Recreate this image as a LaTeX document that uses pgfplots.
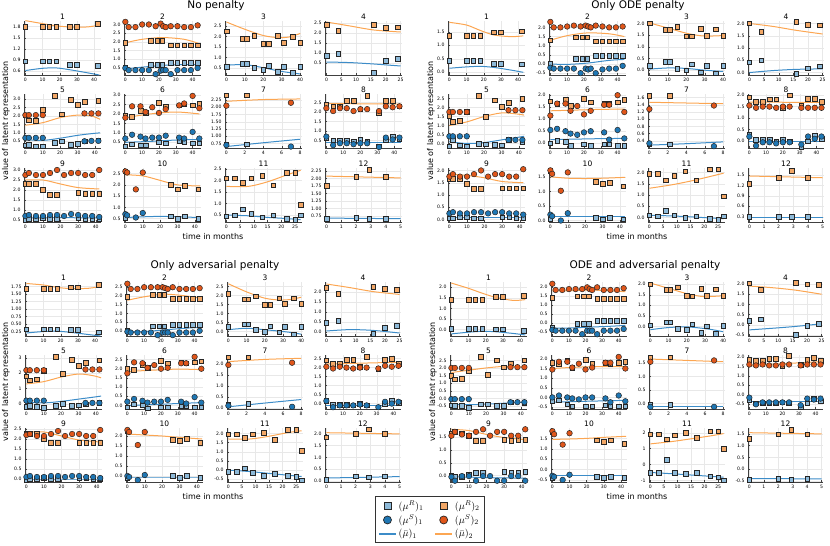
\documentclass[border=0pt]{standalone}
\usepackage{fontspec}
\setmainfont{DejaVu Sans}
\usepackage{pgfplots}
\usepackage{pgfplotstable}
\pgfplotsset{compat=1.18}

\definecolor{sqBc}{HTML}{8EBAD9}
\definecolor{sqOc}{HTML}{F2A766}
\definecolor{cBc}{HTML}{1F77B4}
\definecolor{cOc}{HTML}{E0561A}
\definecolor{lBc}{HTML}{3C8CC8}
\definecolor{lOc}{HTML}{FCA652}

\pgfplotsset{
  sub/.style={
    scale only axis, height=54pt, anchor=north west,
    axis lines*=left, axis line style={black!75, line width=0.5pt},
    xmajorgrids, ymajorgrids, grid style={black!9, line width=0.35pt},
    tick align=inside, major tick length=1.6pt, tick style={black!75, line width=0.4pt},
    ticklabel style={font=\fontsize{4.6}{5}\selectfont},
    every axis title/.style={at={(0.5,1)}, anchor=south, inner sep=1pt, font=\fontsize{7.5}{8}\selectfont},
    clip=false,
    /pgf/number format/assume math mode=true,
    /pgf/number format/fixed, /pgf/number format/fixed zerofill, /pgf/number format/precision=1,
    xticklabel style={/pgf/number format/precision=0},
  },
  ptwo/.style={yticklabel style={/pgf/number format/precision=2}},
  pzero/.style={yticklabel style={/pgf/number format/precision=0}},
  sqB/.style={only marks, mark=square*, mark size=2.3pt, mark options={fill=sqBc, draw=black!85, line width=0.55pt}},
  sqO/.style={only marks, mark=square*, mark size=2.3pt, mark options={fill=sqOc, draw=black!85, line width=0.55pt}},
  ciB/.style={only marks, mark=*, mark size=2.8pt, mark options={fill=cBc, draw=black!85, line width=0.5pt}},
  ciO/.style={only marks, mark=*, mark size=2.8pt, mark options={fill=cOc, draw=black!85, line width=0.5pt}},
  lnB/.style={no marks, smooth, lBc, line width=1pt},
  lnO/.style={no marks, smooth, lOc, line width=1pt},
  xpa/.style={xmin=-0.8, xmax=44, xtick={0,10,20,30,40}},
  xpb/.style={xmin=-0.8, xmax=45, xtick={0,10,20,30,40}},
  xpc/.style={xmin=-0.8, xmax=41, xtick={0,10,20,30,40}},
  xpd/.style={xmin=-0.5, xmax=25.5, xtick={0,5,10,15,20,25}},
  xpe/.style={xmin=-0.8, xmax=43.5, xtick={0,10,20,30,40}},
  xpf/.style={xmin=-0.8, xmax=45, xtick={0,10,20,30,40}},
  xpg/.style={xmin=-0.15, xmax=8.2, xtick={0,2,4,6,8}},
  xph/.style={xmin=-0.8, xmax=44.5, xtick={0,10,20,30,40}},
  xpi/.style={xmin=-0.8, xmax=43, xtick={0,10,20,30,40}},
  xpj/.style={xmin=-0.8, xmax=43.5, xtick={0,10,20,30,40}},
  xpk/.style={xmin=-0.5, xmax=27.5, xtick={0,5,10,15,20,25}},
  xpl/.style={xmin=-0.1, xmax=5.1, xtick={0,1,2,3,4,5}},
}

% squares: (mu^R), circles: (mu^S), lines: (bar mu); column prefix A..D = panel
\pgfplotstableread{
x AsO AsB BsO BsB CsO CsB DsO DsB
0 1.80 0.87 1.35 0.42 1.68 0.33 1.42 0.05
10 1.80 0.87 1.35 0.42 1.68 0.33 1.42 0.05
14 1.80 0.87 1.35 0.42 1.68 0.33 1.42 0.05
18 1.80 0.87 1.35 0.42 1.68 0.33 1.42 0.05
26 1.80 0.78 1.48 0.32 1.73 0.30 1.55 0.02
30 1.80 0.78 1.48 0.32 1.73 0.30 1.55 0.02
42 1.88 0.75 1.52 0.30 1.80 0.23 1.60 -0.05
}\sqa
\pgfplotstableread{
x AlO AlB BlO BlB ClO ClB DlO DlB
0 1.96 0.62 1.85 0.15 1.85 0.20 2.20 -0.20
10 1.88 0.68 1.75 0.20 1.80 0.25 1.95 -0.12
18 1.82 0.69 1.55 0.22 1.72 0.26 1.72 -0.08
26 1.79 0.64 1.38 0.18 1.68 0.22 1.52 -0.10
36 1.79 0.56 1.32 0.08 1.69 0.15 1.38 -0.18
43 1.84 0.50 1.35 0.00 1.75 0.10 1.42 -0.25
}\lna

\pgfplotstableread{
x AsO AsB BsO BsB CsO CsB DsO DsB
0 1.95 0.55 1.30 0.05 1.95 0.00 1.40 -0.30
15 2.05 0.70 1.45 0.30 2.05 0.25 1.50 -0.05
19 2.05 0.70 1.45 0.30 2.05 0.25 1.50 -0.05
22 2.05 0.70 1.45 0.30 2.05 0.25 1.50 -0.05
27 1.80 0.80 1.25 0.45 1.85 0.35 1.35 0.10
31 1.80 0.80 1.25 0.45 1.85 0.35 1.35 0.10
35 1.80 0.80 1.25 0.45 1.85 0.35 1.35 0.10
39 1.80 0.80 1.25 0.45 1.85 0.35 1.35 0.10
43 1.80 0.80 1.25 0.45 1.85 0.35 1.35 0.10
}\sqb
\pgfplotstableread{
x AcO AcB BcO BcB CcO CcB DcO DcB
0 3.15 0.50 2.30 -0.20 2.70 -0.05 2.20 -0.40
2 2.85 0.38 2.00 -0.25 2.40 -0.10 1.85 -0.45
6 2.85 0.38 2.00 -0.25 2.40 -0.10 1.85 -0.45
10 3.00 0.38 2.05 -0.25 2.50 -0.10 1.90 -0.45
14 3.00 0.38 2.10 -0.25 2.50 -0.10 1.90 -0.45
18 2.90 0.15 2.05 -0.50 2.50 -0.25 1.90 -0.65
21 3.05 0.35 2.10 -0.25 2.50 -0.10 2.00 -0.45
22.5 2.90 0.38 2.05 -0.30 2.45 -0.10 1.90 -0.45
24 2.85 0.38 2.00 -0.25 2.40 -0.10 1.85 -0.45
27 2.90 0.15 2.10 -0.50 2.50 -0.25 2.00 -0.65
31 2.90 0.38 2.05 -0.30 2.40 -0.10 1.85 -0.45
35 2.85 0.38 2.00 -0.25 2.40 -0.10 1.85 -0.45
39 2.85 0.38 2.00 -0.25 2.40 -0.10 1.85 -0.45
43 2.95 0.50 2.05 -0.10 2.45 0.00 1.95 -0.35
}\cib
\pgfplotstableread{
x AlO AlB BlO BlB ClO ClB DlO DlB
0 1.95 0.45 1.30 0.00 1.75 -0.05 1.80 -0.30
10 2.15 0.55 1.55 -0.02 1.95 -0.05 1.80 -0.30
22 2.25 0.65 1.70 0.05 2.10 0.05 1.85 -0.25
35 2.15 0.70 1.65 0.20 2.00 0.15 1.80 -0.20
44 1.90 0.68 1.50 0.25 1.85 0.20 1.75 -0.15
}\lnb

\pgfplotstableread{
x AsO AsB BsO BsB CsO CsB DsO DsB
0 2.25 0.55 2.00 0.20 2.10 0.25 2.00 0.05
9 1.90 0.70 1.72 0.37 1.80 0.40 1.72 0.20
11 1.90 0.70 1.72 0.37 1.80 0.40 1.72 0.20
15 2.05 0.50 1.85 0.07 1.95 0.10 1.85 -0.10
20 1.65 0.40 1.45 0.00 1.50 0.00 1.45 -0.15
23 1.65 0.60 1.45 0.25 1.48 0.28 1.42 0.10
28 2.05 0.30 1.78 -0.08 1.85 -0.05 1.78 -0.30
31 1.70 0.55 1.48 0.20 1.55 0.25 1.45 0.00
36 2.00 0.25 1.75 -0.12 1.85 -0.15 1.75 -0.35
40 1.70 0.55 1.48 0.20 1.55 0.25 1.45 0.02
}\sqc
\pgfplotstableread{
x AlO AlB BlO BlB ClO ClB DlO DlB
0 2.70 0.62 2.02 0.05 2.65 0.10 2.05 -0.15
10 2.35 0.65 1.80 0.10 2.20 0.18 1.80 -0.05
20 2.05 0.50 1.58 0.08 1.85 0.10 1.55 -0.02
28 1.95 0.35 1.47 0.02 1.75 0.02 1.42 -0.08
34 1.98 0.27 1.46 -0.02 1.78 -0.05 1.42 -0.15
40 2.15 0.20 1.48 -0.05 1.90 -0.15 1.45 -0.25
}\lnc

\pgfplotstableread{
x AsO AsB BsO BsB CsO CsB DsO DsB
0 2.40 0.85 2.00 0.42 2.20 0.45 2.03 0.20
4 2.10 0.95 1.65 0.50 1.90 0.55 1.72 0.28
16 2.40 0.00 2.07 -0.05 2.25 -0.10 2.07 -0.50
20 2.25 0.60 1.95 0.18 2.15 0.20 1.98 -0.05
24 2.28 0.70 1.93 0.25 2.10 0.30 1.95 0.05
}\sqd
\pgfplotstableread{
x AlO AlB BlO BlB ClO ClB DlO DlB
0 2.55 0.55 2.00 0.00 2.40 0.05 1.90 -0.25
8 2.35 0.52 1.88 0.08 2.22 0.12 1.82 -0.17
16 2.15 0.45 1.72 0.13 2.02 0.08 1.70 -0.08
25 2.05 0.35 1.57 0.15 1.88 -0.05 1.50 0.05
}\lnd

\pgfplotstableread{
x AsO AsB BsO BsB CsO CsB DsO DsB
0 2.05 0.25 1.55 -0.15 1.80 -0.20 1.50 -0.45
2 1.75 0.30 1.20 0.20 1.55 -0.15 1.25 -0.50
6 1.70 0.20 1.25 -0.10 1.60 -0.20 1.30 -0.50
10 2.35 0.20 1.75 -0.15 2.15 -0.25 1.80 -0.60
17 3.20 0.40 2.65 0.00 3.10 -0.15 2.75 -0.40
21 2.10 0.50 1.50 -0.05 1.95 0.00 1.55 -0.40
26 2.95 0.30 2.40 -0.08 2.90 -0.15 2.50 -0.50
30 2.65 0.35 2.05 -0.10 2.50 -0.10 2.05 -0.50
34 2.85 0.50 2.25 0.20 2.70 -0.05 2.30 -0.25
42 2.90 0.55 2.50 0.10 2.85 0.05 2.50 -0.30
}\sqe
\pgfplotstableread{
x AcO AcB BcO BcB CcO CcB DcO DcB
0 2.05 0.70 1.75 0.40 2.20 0.20 2.00 -0.05
2 2.05 0.70 1.75 0.40 2.20 0.20 2.00 -0.05
6 2.05 0.70 1.75 0.40 2.20 0.20 2.00 -0.05
10 2.05 0.70 1.75 0.40 2.20 0.20 2.00 -0.05
34 2.15 0.50 1.85 0.20 2.25 0.05 2.05 -0.25
38 2.15 0.52 1.85 0.20 2.25 0.05 2.05 -0.25
42 2.15 0.52 1.85 0.20 2.25 0.05 2.05 -0.25
}\cie
\pgfplotstableread{
x AlO AlB BlO BlB ClO ClB DlO DlB
0 1.45 0.60 1.00 0.10 1.30 0.10 1.70 -0.40
10 1.60 0.55 1.20 0.00 1.45 0.05 1.85 -0.42
20 1.90 0.68 1.50 0.05 1.75 0.15 2.00 -0.38
30 2.05 0.85 1.70 0.20 1.95 0.30 2.10 -0.32
38 2.00 0.95 1.65 0.32 1.85 0.42 2.08 -0.28
43 1.80 1.00 1.58 0.40 1.70 0.50 2.05 -0.25
}\lne

\pgfplotstableread{
x AsO AsB BsO BsB CsO CsB DsO DsB
0 1.90 0.30 1.75 0.00 2.00 -0.10 1.80 -0.20
4 1.85 0.40 1.65 0.10 1.95 0.05 1.75 -0.15
9 2.15 0.35 1.80 0.05 2.20 0.00 1.90 -0.35
12 2.05 0.35 1.55 -0.10 2.05 -0.15 1.55 -0.45
20 2.60 0.50 1.85 -0.05 2.45 -0.10 1.95 -0.45
24 2.40 0.45 1.70 -0.10 2.30 -0.10 1.75 -0.45
32 2.45 0.55 1.65 -0.05 2.35 -0.05 1.80 -0.40
35 2.50 0.50 1.65 -0.05 2.30 -0.05 1.75 -0.45
40 2.45 0.45 1.70 -0.10 2.35 -0.10 1.80 -0.45
44 2.55 0.45 1.80 -0.10 2.40 -0.10 1.85 -0.45
}\sqf
\pgfplotstableread{
x AcO AcB BcO BcB CcO CcB DcO DcB
0 1.80 0.70 1.15 0.55 1.75 0.20 1.45 0.00
4 2.40 0.90 1.65 0.60 2.35 0.35 1.85 0.10
9 2.40 0.80 1.65 0.50 2.30 0.25 1.85 0.00
12 2.10 0.70 1.35 0.40 2.05 0.15 1.55 -0.05
16 2.35 0.75 1.55 0.35 2.20 0.20 1.75 -0.10
20 2.05 0.75 1.20 0.45 2.00 0.20 1.45 0.00
24 2.25 0.85 1.35 0.50 2.05 0.30 1.55 0.00
32 2.45 0.75 1.60 0.45 2.30 0.20 1.80 -0.05
35 2.55 0.70 1.60 0.15 2.30 0.10 1.80 -0.25
40 2.95 1.05 2.00 0.55 2.65 0.45 2.10 0.10
44 2.30 0.70 1.30 0.20 2.00 0.15 1.50 -0.20
}\cif
\pgfplotstableread{
x AlO AlB BlO BlB ClO ClB DlO DlB
0 1.80 0.50 1.35 0.15 1.85 0.00 1.50 -0.25
15 2.00 0.55 1.38 0.17 1.92 0.04 1.57 -0.21
30 2.10 0.62 1.41 0.19 1.98 0.10 1.60 -0.18
44 2.00 0.65 1.42 0.20 1.95 0.15 1.60 -0.15
}\lnf

\pgfplotstableread{
x AsO AsB BsO BsB CsO CsB DsO DsB
0 2.40 0.73 1.65 0.30 2.30 0.15 1.72 -0.05
2.2 2.40 0.73 1.65 0.30 2.30 0.18 1.72 -0.05
}\sqg
\pgfplotstableread{
x AcO AcB BcO BcB CcO CcB DcO DcB
0 2.05 0.70 1.28 0.33 1.95 0.10 1.55 -0.12
7 2.15 0.65 1.38 0.25 2.05 0.05 1.60 -0.12
}\cig
\pgfplotstableread{
x AlO AlB BlO BlB ClO ClB DlO DlB
0 2.20 0.65 1.47 0.28 2.10 0.05 1.65 -0.10
4 2.26 0.78 1.45 0.32 2.20 0.22 1.60 -0.10
8 2.28 0.90 1.43 0.37 2.25 0.38 1.55 -0.10
}\lng

\pgfplotstableread{
x AsO AsB BsO BsB CsO CsB DsO DsB
0 2.40 0.65 1.90 0.30 2.40 0.15 1.85 -0.25
4 2.30 0.50 1.72 0.05 2.20 -0.05 1.80 -0.45
8 2.30 0.50 1.72 0.05 2.20 -0.05 1.80 -0.45
12 2.60 0.50 1.82 0.05 2.45 -0.05 1.90 -0.45
16 2.60 0.45 1.82 0.00 2.45 -0.10 1.90 -0.45
20 2.15 0.55 1.45 0.05 2.05 0.00 1.50 -0.40
24 2.85 0.45 2.00 0.00 2.60 -0.10 2.05 -0.45
31 1.95 0.20 1.55 -0.25 1.95 -0.20 1.60 -0.65
35 2.60 0.50 1.85 0.00 2.45 0.00 1.85 -0.45
39 2.60 0.70 1.85 0.25 2.50 0.15 1.95 -0.20
43 2.30 0.60 1.72 0.10 2.20 0.05 1.80 -0.35
}\sqh
\pgfplotstableread{
x AcO AcB BcO BcB CcO CcB DcO DcB
0 2.20 0.70 1.55 0.20 2.05 0.15 1.60 -0.15
4 2.05 0.25 1.45 -0.20 1.95 -0.20 1.55 -0.50
8 2.20 0.35 1.50 -0.05 2.05 -0.10 1.60 -0.40
12 2.20 0.35 1.50 -0.05 2.00 -0.10 1.55 -0.40
16 2.05 0.30 1.45 -0.10 1.95 -0.10 1.55 -0.40
20 2.15 0.35 1.50 -0.05 2.00 -0.05 1.60 -0.40
24 2.15 0.35 1.50 -0.05 2.00 -0.10 1.60 -0.40
31 2.05 0.15 1.45 -0.15 1.95 -0.20 1.55 -0.55
35 2.30 0.65 1.45 0.20 2.10 0.10 1.60 -0.20
39 2.25 0.55 1.45 0.10 2.05 0.00 1.60 -0.25
43 2.30 0.65 1.45 0.20 2.10 0.10 1.60 -0.20
}\cih
\pgfplotstableread{
x AlO AlB BlO BlB ClO ClB DlO DlB
0 2.45 0.40 1.70 0.00 2.20 -0.10 1.55 -0.35
22 2.43 0.40 1.69 0.00 2.25 -0.10 1.65 -0.35
44 2.42 0.40 1.68 0.00 2.30 -0.10 1.75 -0.35
}\lnh

\pgfplotstableread{
x AsO AsB BsO BsB CsO CsB DsO DsB
0 2.30 0.50 1.65 0.05 2.25 -0.05 1.65 0.00
2 2.30 0.55 1.65 0.05 2.25 0.00 1.70 -0.05
6 2.30 0.55 1.65 0.10 2.25 0.00 1.65 -0.05
10 2.00 0.60 1.45 0.10 2.00 0.05 1.55 0.05
14 1.75 0.55 1.25 0.05 1.80 0.00 1.35 0.10
18 1.75 0.55 1.25 0.05 1.80 0.00 1.35 0.10
30 1.85 0.60 1.28 0.10 1.80 0.05 1.40 0.15
34 1.80 0.55 1.27 0.10 1.80 0.05 1.35 0.10
38 1.80 0.55 1.27 0.05 1.80 0.00 1.40 0.10
42 1.80 0.55 1.27 0.05 1.80 0.00 1.40 0.15
}\sqi
\pgfplotstableread{
x AcO AcB BcO BcB CcO CcB DcO DcB
0 2.75 0.70 1.75 0.25 2.20 0.10 1.55 -0.05
2 2.85 0.75 1.85 0.30 2.25 0.15 1.70 -0.20
6 2.75 0.70 1.75 0.25 2.15 0.10 1.60 -0.02
10 2.75 0.70 1.75 0.25 2.15 0.10 1.55 -0.02
14 2.85 0.75 1.85 0.30 2.25 0.15 1.70 -0.20
18 3.00 0.75 2.00 0.30 2.40 0.15 1.80 -0.02
22 2.75 0.70 1.75 0.25 2.15 0.10 1.55 -0.02
26 2.85 0.80 1.85 0.30 2.25 0.15 1.70 -0.20
30 2.85 0.75 1.85 0.30 2.25 0.15 1.70 -0.20
34 2.75 0.70 1.75 0.25 2.15 0.10 1.55 -0.02
38 2.75 0.70 1.75 0.25 2.15 0.10 1.55 -0.02
42 3.00 0.65 2.05 0.20 2.45 0.05 1.80 -0.20
}\cii
\pgfplotstableread{
x AlO AlB BlO BlB ClO ClB DlO DlB
0 2.50 0.60 1.85 0.10 2.35 0.00 1.80 -0.05
10 2.50 0.61 1.80 0.10 2.35 0.00 1.75 -0.06
20 2.30 0.62 1.70 0.10 2.15 0.00 1.60 -0.08
30 2.12 0.61 1.55 0.10 1.95 0.00 1.48 -0.09
42 2.05 0.60 1.50 0.10 1.85 0.00 1.40 -0.10
}\lni

\pgfplotstableread{
x AsO AsB BsO BsB CsO CsB DsO DsB
0 2.60 0.55 1.70 0.05 2.25 -0.10 1.80 -0.40
26 2.00 0.60 1.32 0.10 1.80 0.00 1.40 -0.35
30 1.80 0.50 1.25 0.05 1.75 -0.10 1.35 -0.40
34 1.95 0.60 1.30 0.10 1.85 0.00 1.40 -0.35
42 1.80 0.50 1.18 0.05 1.65 -0.10 1.25 -0.40
}\sqj
\pgfplotstableread{
x AcO AcB BcO BcB CcO CcB DcO DcB
0 2.60 0.70 1.72 0.20 2.30 0.00 1.85 -0.30
1 2.55 0.65 1.60 0.15 2.20 -0.05 1.70 -0.35
6 1.80 0.55 1.02 0.00 1.55 -0.20 1.20 -0.50
10 2.55 0.75 1.65 0.25 2.20 0.05 1.75 -0.25
}\cij
\pgfplotstableread{
x AlO AlB BlO BlB ClO ClB DlO DlB
0 2.45 0.55 1.50 0.15 2.10 -0.05 1.45 -0.30
10 2.40 0.58 1.45 0.15 2.05 -0.05 1.47 -0.30
20 2.20 0.60 1.44 0.15 2.00 -0.05 1.50 -0.30
30 2.00 0.58 1.45 0.15 1.93 -0.05 1.55 -0.30
43 1.95 0.55 1.48 0.15 1.85 -0.05 1.60 -0.30
}\lnj

\pgfplotstableread{
x AsO AsB BsO BsB CsO CsB DsO DsB
0 2.10 0.45 1.95 0.10 1.95 -0.10 1.90 -0.50
3 2.10 0.50 1.95 0.05 1.95 -0.10 1.90 -0.50
6 1.90 0.75 1.65 0.30 1.75 0.10 1.60 0.30
9 2.10 0.55 1.85 0.10 1.95 -0.15 1.85 -0.50
13 2.20 0.40 2.05 0.00 2.05 -0.30 2.00 -0.60
17 1.80 0.50 1.65 0.05 1.65 -0.20 1.70 -0.50
22 2.35 0.35 2.15 -0.05 2.20 -0.30 2.10 -0.75
25 2.35 0.30 2.15 -0.10 2.20 -0.35 2.10 -0.80
27 0.95 0.50 0.95 0.05 1.05 -0.55 1.00 -1.00
}\sqk
\pgfplotstableread{
x AlO AlB BlO BlB ClO ClB DlO DlB
0 1.75 0.50 1.30 0.10 1.70 0.00 1.30 -0.50
8 1.75 0.47 1.45 0.07 1.70 -0.08 1.45 -0.58
15 1.95 0.40 1.62 0.03 1.85 -0.18 1.62 -0.66
22 2.25 0.35 1.82 -0.02 2.05 -0.28 1.80 -0.74
27 2.45 0.30 1.97 -0.05 2.15 -0.35 1.95 -0.80
}\lnk

\pgfplotstableread{
x AsO AsB BsO BsB CsO CsB DsO DsB
0 1.75 0.65 1.25 0.30 1.85 0.05 1.30 -0.45
2 2.05 0.70 1.42 0.30 2.00 0.20 1.48 -0.40
2.9 2.30 0.65 1.62 0.30 2.20 0.15 1.68 -0.45
4 2.05 0.65 1.42 0.30 2.00 0.20 1.48 -0.40
}\sql
\pgfplotstableread{
x AlO AlB BlO BlB ClO ClB DlO DlB
0 2.08 0.68 1.47 0.27 2.05 0.12 1.55 -0.40
5 2.02 0.66 1.42 0.27 2.00 0.18 1.50 -0.42
}\lnl

\newcommand{\pltx}[3]{\addplot[#2] table[x=x, y=#3] {#1};}
\newcommand{\plt}[3]{\expandafter\pltx\csname #2\endcsname{#1}{#3}}

% #1 left, #2 top (pt from top), #3 patient, #4 panel, #5 title, #6 width, #7 y options
\newcommand{\subp}[7]{%
  \begin{axis}[sub, at={(#1pt,-#2pt)}, width=#6pt, title={#5}, xp#3, #7]
    \plt{sqB}{sq#3}{#4sB}
    \plt{sqO}{sq#3}{#4sO}
    \ifcsname ci#3\endcsname
      \plt{ciB}{ci#3}{#4cB}
      \plt{ciO}{ci#3}{#4cO}
    \fi
    \plt{lnB}{ln#3}{#4lB}
    \plt{lnO}{ln#3}{#4lO}
  \end{axis}}

\begin{document}
\begin{tikzpicture}[x=1pt, y=1pt]
\useasboundingbox (0,0) rectangle (830,-546);

% No penalty
\subp{24}{21}{a}{A}{1}{77}{ymin=0.5,ymax=1.95,ytick={0.6,0.9,1.2,1.5,1.8}}
\subp{124}{21}{b}{A}{2}{77}{ymin=0.1,ymax=3.2,ytick={0.5,1,1.5,2,2.5,3}}
\subp{225}{21}{c}{A}{3}{77}{ymin=0.15,ymax=2.75,ytick={0.5,1,1.5,2,2.5}}
\subp{325}{21}{d}{A}{4}{77}{ymin=-0.1,ymax=2.6,ytick={0.5,1,1.5,2,2.5}}
\subp{24}{94}{e}{A}{5}{77}{ymin=0.1,ymax=3.3,ytick={0.5,1,1.5,2,2.5,3}}
\subp{124}{94}{f}{A}{6}{77}{ymin=0.2,ymax=3.05,ytick={0.5,1,1.5,2,2.5,3}}
\subp{225}{94}{g}{A}{7}{77}{ymin=0.6,ymax=2.45,ytick={0.75,1,1.25,1.5,1.75,2,2.25},ptwo}
\subp{325}{94}{h}{A}{8}{77}{ymin=0.1,ymax=2.95,ytick={0.5,1,1.5,2,2.5}}
\subp{24}{168}{i}{A}{9}{77}{ymin=0.4,ymax=3.1,ytick={0.5,1,1.5,2,2.5,3}}
\subp{124}{168}{j}{A}{10}{77}{ymin=0.35,ymax=2.75,ytick={0.5,1,1.5,2,2.5}}
\subp{225}{168}{k}{A}{11}{77}{ymin=0.2,ymax=2.55,ytick={0.5,1,1.5,2,2.5}}
\subp{325}{168}{l}{A}{12}{77}{ymin=0.55,ymax=2.35,ytick={0.75,1,1.25,1.5,1.75,2,2.25},ptwo}

% Only ODE penalty
\subp{448}{21}{a}{B}{1}{77}{ymin=-0.1,ymax=1.9,ytick={0,0.5,1,1.5}}
\subp{549}{21}{b}{B}{2}{77}{ymin=-0.6,ymax=2.35,ytick={-0.5,0,0.5,1,1.5,2}}
\subp{648}{21}{c}{B}{3}{77}{ymin=-0.2,ymax=2.1,ytick={0,0.5,1,1.5,2}}
\subp{748}{21}{d}{B}{4}{76}{ymin=-0.1,ymax=2.1,ytick={0,0.5,1,1.5,2}}
\subp{448}{94}{e}{B}{5}{77}{ymin=-0.25,ymax=2.75,ytick={0,0.5,1,1.5,2,2.5}}
\subp{549}{94}{f}{B}{6}{77}{ymin=-0.2,ymax=2.05,ytick={0,0.5,1,1.5,2}}
\subp{648}{94}{g}{B}{7}{77}{ymin=0.2,ymax=1.7,ytick={0.4,0.6,0.8,1,1.2,1.4,1.6}}
\subp{748}{94}{h}{B}{8}{76}{ymin=-0.3,ymax=2.05,ytick={0,0.5,1,1.5,2}}
\subp{448}{168}{i}{B}{9}{77}{ymin=-0.1,ymax=2.1,ytick={0,0.5,1,1.5,2}}
\subp{549}{168}{j}{B}{10}{77}{ymin=-0.05,ymax=1.8,ytick={0,0.5,1,1.5}}
\subp{648}{168}{k}{B}{11}{77}{ymin=-0.2,ymax=2.2,ytick={0,0.5,1,1.5,2}}
\subp{748}{168}{l}{B}{12}{76}{ymin=0.15,ymax=1.7,ytick={0.3,0.6,0.9,1.2,1.5}}

% Only adversarial penalty
\subp{25}{282}{a}{C}{1}{77}{ymin=0.1,ymax=1.9,ytick={0.25,0.5,0.75,1,1.25,1.5,1.75},ptwo}
\subp{126}{282}{b}{C}{2}{77}{ymin=-0.3,ymax=2.8,ytick={0,0.5,1,1.5,2,2.5}}
\subp{227}{282}{c}{C}{3}{76}{ymin=-0.25,ymax=2.75,ytick={0,0.5,1,1.5,2,2.5}}
\subp{325}{282}{d}{C}{4}{76}{ymin=-0.2,ymax=2.5,ytick={0,0.5,1,1.5,2}}
\subp{25}{355}{e}{C}{5}{77}{ymin=-0.35,ymax=3.2,ytick={0,1,2,3},pzero}
\subp{126}{355}{f}{C}{6}{77}{ymin=-0.2,ymax=2.75,ytick={0,0.5,1,1.5,2,2.5}}
\subp{227}{355}{g}{C}{7}{76}{ymin=-0.05,ymax=2.4,ytick={0,0.5,1,1.5,2}}
\subp{325}{355}{h}{C}{8}{76}{ymin=-0.3,ymax=2.7,ytick={0,0.5,1,1.5,2,2.5}}
\subp{25}{428}{i}{C}{9}{77}{ymin=-0.15,ymax=2.55,ytick={0,0.5,1,1.5,2,2.5}}
\subp{126}{428}{j}{C}{10}{77}{ymin=-0.3,ymax=2.4,ytick={0,0.5,1,1.5,2}}
\subp{227}{428}{k}{C}{11}{76}{ymin=-0.65,ymax=2.3,ytick={-0.5,0,0.5,1,1.5,2}}
\subp{325}{428}{l}{C}{12}{76}{ymin=-0.05,ymax=2.25,ytick={0,0.5,1,1.5,2}}

% ODE and adversarial penalty
\subp{450}{282}{a}{D}{1}{77}{ymin=-0.3,ymax=2.25,ytick={0,0.5,1,1.5,2}}
\subp{551}{282}{b}{D}{2}{76}{ymin=-0.75,ymax=2.3,ytick={-0.5,0,0.5,1,1.5,2}}
\subp{649}{282}{c}{D}{3}{76}{ymin=-0.45,ymax=2.1,ytick={0,0.5,1,1.5,2}}
\subp{748}{282}{d}{D}{4}{75}{ymin=-0.55,ymax=2.1,ytick={-0.5,0,0.5,1,1.5,2}}
\subp{450}{355}{e}{D}{5}{77}{ymin=-0.7,ymax=2.85,ytick={-0.5,0,0.5,1,1.5,2,2.5}}
\subp{551}{355}{f}{D}{6}{76}{ymin=-0.6,ymax=2.2,ytick={-0.5,0,0.5,1,1.5,2}}
\subp{649}{355}{g}{D}{7}{76}{ymin=-0.2,ymax=1.8,ytick={0,0.5,1,1.5}}
\subp{748}{355}{h}{D}{8}{75}{ymin=-0.75,ymax=2.1,ytick={-0.5,0,0.5,1,1.5,2}}
\subp{450}{428}{i}{D}{9}{77}{ymin=-0.25,ymax=1.85,ytick={0,0.5,1,1.5}}
\subp{551}{428}{j}{D}{10}{76}{ymin=-0.6,ymax=2.0,ytick={-0.5,0,0.5,1,1.5}}
\subp{649}{428}{k}{D}{11}{76}{ymin=-1.1,ymax=2.3,ytick={-1,0,1,2},pzero}
\subp{748}{428}{l}{D}{12}{75}{ymin=-0.55,ymax=1.75,ytick={-0.5,0,0.5,1,1.5}}

% panel titles and labels
\begin{scope}[every node/.style={font=\fontsize{10.5}{12}\selectfont}]
\node at (216,-6) {No penalty};
\node at (638,-6) {Only ODE penalty};
\node at (215,-266) {Only adversarial penalty};
\node at (645,-266) {ODE and adversarial penalty};
\end{scope}
\begin{scope}[every node/.style={font=\fontsize{8}{9}\selectfont}]
\node at (213,-237) {time in months};
\node at (637,-237) {time in months};
\node at (213,-497) {time in months};
\node at (637,-497) {time in months};
\node[rotate=90] at (6,-121) {value of latent representation};
\node[rotate=90] at (431,-121) {value of latent representation};
\node[rotate=90] at (6,-382) {value of latent representation};
\node[rotate=90] at (433,-382) {value of latent representation};
\end{scope}

% legend
\begin{axis}[hide axis, scale only axis, width=20pt, height=20pt, at={(430pt,-519.5pt)}, anchor=center,
  xmin=0, xmax=1, ymin=0, ymax=1, legend columns=2, legend cell align=left,
  legend style={at={(0.5,0.5)}, anchor=center, draw=black!80, line width=0.6pt,
    font=\fontsize{10}{11}\selectfont, row sep=0.5pt, inner xsep=3pt, inner ysep=2pt,
    /tikz/every even column/.append style={column sep=9pt}}]
\addplot[draw=none, forget plot] coordinates {(0,0)};
\addlegendimage{only marks, mark=square*, mark size=3.5pt, mark options={fill=sqBc, draw=black!85, line width=0.7pt}}
\addlegendentry{$(\mu^{R})_1$}
\addlegendimage{only marks, mark=square*, mark size=3.5pt, mark options={fill=sqOc, draw=black!85, line width=0.7pt}}
\addlegendentry{$(\mu^{R})_2$}
\addlegendimage{only marks, mark=*, mark size=4pt, mark options={fill=cBc, draw=black!85, line width=0.7pt}}
\addlegendentry{$(\mu^{S})_1$}
\addlegendimage{only marks, mark=*, mark size=4pt, mark options={fill=cOc, draw=black!85, line width=0.7pt}}
\addlegendentry{$(\mu^{S})_2$}
\addlegendimage{no marks, draw=lBc, line width=1.3pt}
\addlegendentry{$(\bar{\mu})_1$}
\addlegendimage{no marks, draw=lOc, line width=1.3pt}
\addlegendentry{$(\bar{\mu})_2$}
\end{axis}
\end{tikzpicture}
\end{document}
